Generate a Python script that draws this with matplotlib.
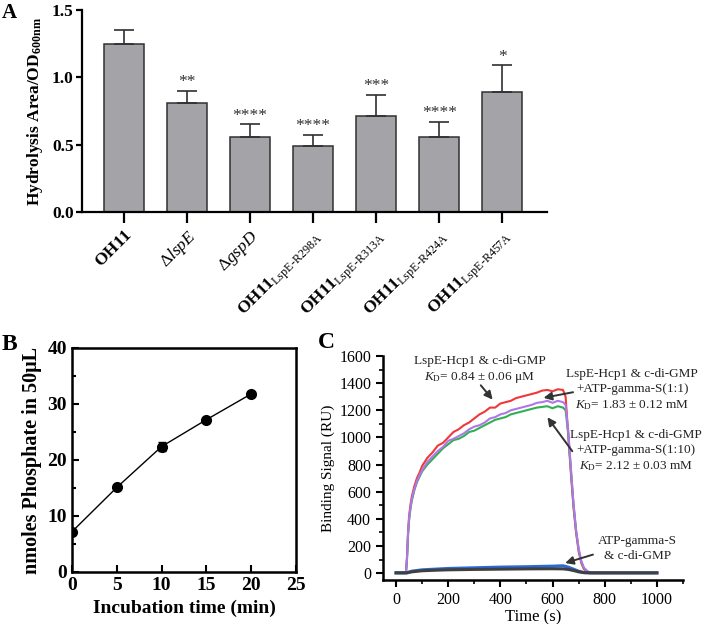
import matplotlib
matplotlib.use("Agg")
import matplotlib.pyplot as plt
from matplotlib.ticker import MultipleLocator

plt.rcParams['font.family'] = ['Liberation Serif', 'DejaVu Serif']
plt.rcParams['mathtext.fontset'] = 'custom'
plt.rcParams['mathtext.rm'] = 'Liberation Serif'
plt.rcParams['mathtext.it'] = 'Liberation Serif:italic'
plt.rcParams['mathtext.bf'] = 'Liberation Serif:bold'

# panel A data
strains = ['OH11', 'ΔlspE', 'ΔgspD', 'R298A', 'R313A', 'R424A', 'R457A']
hydrolysis = [1.25, 0.81, 0.56, 0.49, 0.71, 0.56, 0.89]
hydrolysis_err = [0.10, 0.09, 0.09, 0.085, 0.16, 0.11, 0.20]
signif = ['', '**', '****', '****', '***', '****', '*']

# panel B data
inc_time = [0, 5, 10, 15, 20]
phosphate = [7.2, 15.1, 22.4, 27.2, 31.8]
phosphate_err = [0.3, 0.3, 0.8, 0.3, 0.3]

# panel C data
t_main = [0, 38, 42, 46, 50, 55, 60, 70, 80, 90, 100, 120, 140, 160, 180, 200, 220, 240,
          260, 280, 300, 320, 340, 360, 380, 400, 420, 440, 460, 480, 500, 520, 540, 560,
          580, 600, 620, 640, 650, 660, 670, 680, 690, 700, 710, 720, 735, 750, 800, 900, 1000]
red = [5, 5, 120, 300, 420, 500, 560, 640, 700, 740, 790, 850, 890, 940, 960, 1000, 1040, 1060,
       1090, 1110, 1140, 1170, 1190, 1220, 1220, 1250, 1260, 1270, 1290, 1300, 1310, 1320, 1330, 1345,
       1350, 1340, 1355, 1350, 1300, 1020, 740, 490, 300, 160, 75, 30, 10, 5, 4, 3, 3]
purple = [3, 3, 110, 290, 400, 480, 540, 620, 680, 720, 760, 820, 860, 900, 930, 975, 990, 1010,
          1030, 1060, 1080, 1090, 1110, 1140, 1150, 1170, 1180, 1200, 1210, 1220, 1230, 1240, 1255, 1260,
          1270, 1255, 1270, 1260, 1240, 1050, 780, 520, 320, 180, 90, 40, 12, 5, 3, 3, 3]
green = [2, 2, 100, 280, 390, 470, 530, 610, 670, 710, 750, 800, 840, 880, 920, 950, 980, 990,
         1010, 1040, 1050, 1070, 1090, 1110, 1130, 1140, 1150, 1170, 1180, 1190, 1200, 1210, 1220, 1225,
         1230, 1215, 1230, 1220, 1200, 1030, 770, 510, 315, 175, 88, 38, 11, 4, 2, 2, 2]
t_low = [0, 40, 60, 100, 150, 200, 300, 400, 500, 600, 640, 660, 680, 700, 720, 750, 1000]
blue = [3, 3, 15, 25, 30, 35, 40, 45, 48, 52, 55, 45, 30, 15, 5, 3, 3]
grey = [2, 2, 10, 18, 22, 25, 28, 30, 32, 33, 32, 28, 20, 10, 4, 2, 2]

fig = plt.figure(figsize=(7.05, 6.24), dpi=100)

# ---------------- A
axA = fig.add_axes([82/705, 412/624, 465/705, 202/624])
xs = list(range(len(strains)))
axA.bar(xs, hydrolysis, width=0.64, color='#a4a4a8', edgecolor='#303030', linewidth=1.1,
        yerr=[[0]*len(xs), hydrolysis_err], capsize=7,
        error_kw=dict(ecolor='#303030', elinewidth=1.2, capthick=1.2))
for x, v, e, s in zip(xs, hydrolysis, hydrolysis_err, signif):
    if s:
        axA.text(x, v + e + 0.005, s, ha='center', va='bottom', fontsize=12.5, color='#303030')
axA.set_xlim(-0.667, 6.71)
axA.set_ylim(0, 1.5)
axA.set_yticks([0, 0.5, 1.0, 1.5])
axA.set_yticklabels(['0.0', '0.5', '1.0', '1.5'], fontweight='bold', fontsize=12.5)
axA.set_xticks(xs)
labels = [r'$\mathbf{OH11}$', r'$\Delta\mathit{lspE}$', r'$\Delta\mathit{gspD}$']
for s in strains[3:]:
    labels.append(r'$\mathbf{OH11}_{\mathrm{LspE‐' + s + '}}$')
axA.set_xticklabels(labels, rotation=45, ha='right', va='top', rotation_mode='anchor', fontsize=12.5)
axA.spines['top'].set_visible(False)
axA.spines['right'].set_visible(False)
for sp in ['left', 'bottom']:
    axA.spines[sp].set_linewidth(1.6)
axA.tick_params(axis='y', direction='out', length=4, width=1.6, pad=2)
axA.tick_params(axis='x', direction='out', length=8, width=1.6, pad=3)
axA.set_ylabel(r'Hydrolysis Area/OD$_{\mathbf{600nm}}$', fontweight='bold', fontsize=12.5, labelpad=5)
fig.text(2/705, 1 - 18/624, 'A', fontsize=15, fontweight='bold')

# ---------------- B
axB = fig.add_axes([72/705, 52/624, 224/705, 224/624])
axB.errorbar(inc_time, phosphate, yerr=phosphate_err, color='black', marker='o',
             markersize=7, linewidth=1.0, capsize=3, elinewidth=1)
axB.set_xlim(0, 25)
axB.set_ylim(0, 40)
axB.xaxis.set_major_locator(MultipleLocator(5))
axB.yaxis.set_major_locator(MultipleLocator(10))
axB.yaxis.set_minor_locator(MultipleLocator(5))
axB.tick_params(direction='in', which='major', length=5, width=1.5, labelsize=14)
axB.tick_params(direction='in', which='minor', length=3, width=1.5)
for lab in axB.get_xticklabels() + axB.get_yticklabels():
    lab.set_fontweight('bold')
for sp in axB.spines.values():
    sp.set_linewidth(1.8)
axB.set_xlabel('Incubation time (min)', fontweight='bold', fontsize=14)
axB.set_ylabel('nmoles Phosphate in 50μL', fontweight='bold', fontsize=14.5)
fig.text(2/705, 1 - 350/624, 'B', fontsize=17, fontweight='bold')

# ---------------- C
axC = fig.add_axes([383/705, 44/624, 300/705, 224/624])
axC.plot(t_main, red, color='#f03838', lw=1.5)
axC.plot(t_main, green, color='#30b050', lw=1.5)
axC.plot(t_main, purple, color='#b076e8', lw=1.5)
axC.plot(t_low, blue, color='#2a6ad8', lw=2.2)
axC.plot(t_low, grey, color='#404040', lw=2.2)
axC.set_xlim(-50, 1100)
axC.set_ylim(-50, 1600)
axC.xaxis.set_major_locator(MultipleLocator(200))
axC.xaxis.set_minor_locator(MultipleLocator(100))
axC.yaxis.set_major_locator(MultipleLocator(200))
axC.yaxis.set_minor_locator(MultipleLocator(100))
axC.tick_params(which='major', direction='out', length=5, width=1.5, labelsize=11.5)
axC.tick_params(which='minor', direction='out', length=3, width=1.2)
axC.spines['top'].set_visible(False)
axC.spines['right'].set_visible(False)
for sp in ['left', 'bottom']:
    axC.spines[sp].set_linewidth(1.8)
axC.set_xlabel('Time (s)', fontsize=12, labelpad=1)
axC.set_ylabel('Binding Signal (RU)', fontsize=11, labelpad=3)

arrow = dict(arrowstyle='-|>', color='#333333', lw=1.4, mutation_scale=12)
txt = dict(ha='center', va='center', fontsize=9.5, color='#222222', linespacing=1.3)
axC.text(320, 1497, 'LspE-Hcp1 & c-di-GMP\n$K_\\mathrm{D}$= 0.84 ± 0.06 μM', **txt)
axC.annotate('', xy=(377, 1263), xytext=(318, 1400), arrowprops=arrow)
axC.text(905, 1351, 'LspE-Hcp1 & c-di-GMP\n+ATP-gamma-S(1:1)\n$K_\\mathrm{D}$= 1.83 ± 0.12 mM', **txt)
axC.annotate('', xy=(555, 1288), xytext=(689, 1337), arrowprops=arrow)
axC.text(918, 900, 'LspE-Hcp1 & c-di-GMP\n+ATP-gamma-S(1:10)\n$K_\\mathrm{D}$= 2.12 ± 0.03 mM', **txt)
axC.annotate('', xy=(574, 1165), xytext=(682, 882), arrowprops=arrow)
axC.text(924, 180, 'ATP-gamma-S\n& c-di-GMP', **txt)
axC.annotate('', xy=(638, 69), xytext=(765, 143), arrowprops=arrow)
fig.text(318/705, 1 - 348/624, 'C', fontsize=17, fontweight='bold')

fig.savefig('out.png', dpi=100)
